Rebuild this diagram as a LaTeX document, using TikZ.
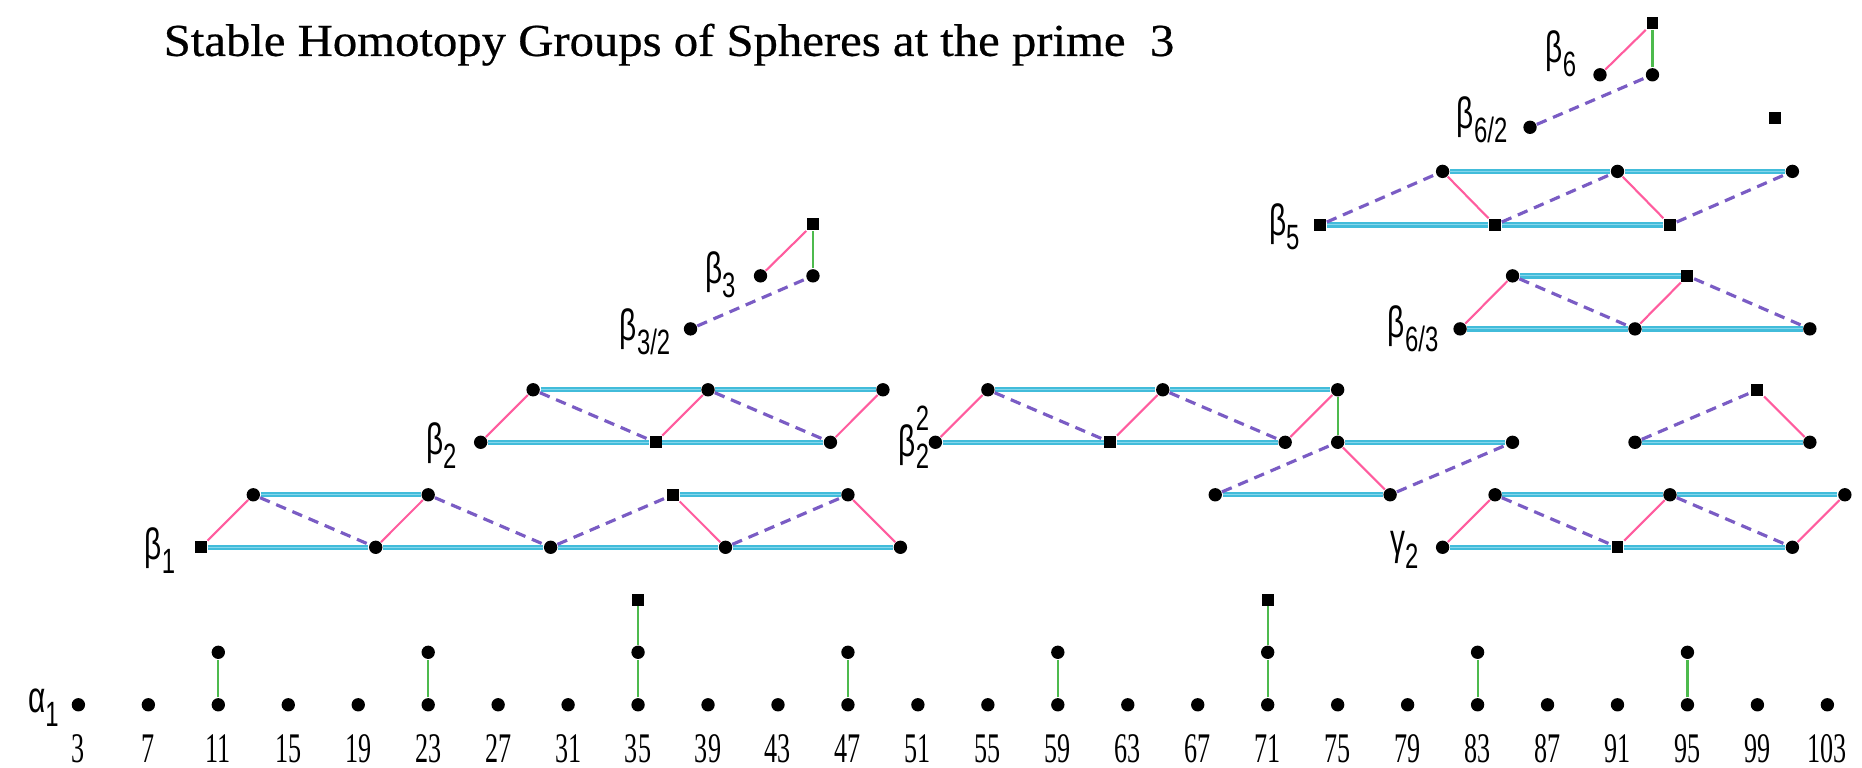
\documentclass[tikz,border=0pt]{standalone}
\usepackage{xcolor}
\usepackage{graphicx}
\usepackage{fontspec}
\setmainfont{Liberation Serif}
\newfontfamily\titlefont{Liberation Serif}[FakeBold=0.5]
\newfontfamily\greekfont{Liberation Sans}
\usepackage{tikz}

\definecolor{cyanline}{HTML}{42BCDA}
\definecolor{cyanmid}{HTML}{86D6EC}
\definecolor{pinkline}{HTML}{FF5C9E}
\definecolor{greenline}{HTML}{4DBA4D}
\definecolor{dashline}{HTML}{7A5CC4}

\newcommand{\narrow}[1]{\scalebox{0.68}[1]{#1}}
\newcommand{\gen}[2]{\narrow{\greekfont\fontsize{12.5}{14}\selectfont #1\raisebox{-0.32em}{\fontsize{10}{12}\selectfont #2}}}

\begin{document}
\begin{tikzpicture}[x=0.1749cm, y=0.525cm,
    dot/.style={circle, fill=black, inner sep=0pt, minimum size=3.8pt},
    sq/.style={rectangle, fill=black, inner sep=0pt, minimum size=3.4pt},
    hz/.style={draw=cyanline, double=cyanmid, line width=0.6pt, double distance=0.3pt},
    pk/.style={draw=pinkline, line width=0.6pt},
    gn/.style={draw=greenline, line width=0.6pt},
    dsh/.style={draw=dashline, line width=0.9pt, dash pattern=on 3pt off 2pt},
    num/.style={font=\fontsize{12}{13}\selectfont, inner sep=0pt},
    lab/.style={anchor=east, inner sep=0pt}]
    \useasboundingbox (-1.4826,-1.204) rectangle (104.98,13.425);

    \node[anchor=base west, inner sep=0pt, font=\titlefont\fontsize{13}{15}\selectfont] (title) at (7.84,12.36) {\scalebox{1.066}[1]{Stable Homotopy Groups of Spheres at the prime\ \ 3}};

    \foreach \t in {3,7,...,103} {
        \node[dot] (a\t) at (\t,0) {};
        \node[num] (n\t) at (\t,-0.84) {\scalebox{0.62}[1]{\t}};
    }
    \foreach \t in {11,23,47,59,83,95} {
        \node[dot] (u\t) at (\t,1) {};
        \draw[gn] (a\t) -- (u\t);
    }
    \foreach \t in {35,71} {
        \node[dot] (u\t) at (\t,1) {};
        \node[sq] (w\t) at (\t,2) {};
        \draw[gn] (a\t) -- (u\t) -- (w\t);
    }
    \node[lab] (la1) at (1.91,-0.05) {\gen{α}{1}};

    \node[sq] at (10,3) (b1-10) {};
    \node[dot] at (20,3) (b1-20) {};
    \node[dot] at (30,3) (b1-30) {};
    \node[dot] at (40,3) (b1-40) {};
    \node[dot] at (50,3) (b1-50) {};
    \node[dot] at (13,4) (b1-13) {};
    \node[dot] at (23,4) (b1-23) {};
    \node[sq] at (37,4) (b1-37) {};
    \node[dot] at (47,4) (b1-47) {};
    \node[lab] at (8.57,2.93) (lb1) {\gen{β}{1}};

    \draw[hz] (b1-10) -- (b1-20) -- (b1-30) -- (b1-40) -- (b1-50);
    \draw[hz] (b1-13) -- (b1-23);
    \draw[hz] (b1-37) -- (b1-47);
    \draw[pk] (b1-10) -- (b1-13);
    \draw[pk] (b1-20) -- (b1-23);
    \draw[pk] (b1-37) -- (b1-40);
    \draw[pk] (b1-47) -- (b1-50);
    \draw[dsh] (b1-13) -- (b1-20);
    \draw[dsh] (b1-23) -- (b1-30);
    \draw[dsh] (b1-30) -- (b1-37);
    \draw[dsh] (b1-40) -- (b1-47);

    \node[dot] at (26,5) (b2-26) {};
    \node[sq] at (36,5) (b2-36) {};
    \node[dot] at (46,5) (b2-46) {};
    \node[dot] at (29,6) (b2-29) {};
    \node[dot] at (39,6) (b2-39) {};
    \node[dot] at (49,6) (b2-49) {};
    \node[lab] at (24.66,4.94) (lb2) {\gen{β}{2}};

    \draw[hz] (b2-26) -- (b2-36) -- (b2-46);
    \draw[hz] (b2-29) -- (b2-39) -- (b2-49);
    \draw[pk] (b2-26) -- (b2-29);
    \draw[pk] (b2-36) -- (b2-39);
    \draw[pk] (b2-46) -- (b2-49);
    \draw[dsh] (b2-29) -- (b2-36);
    \draw[dsh] (b2-39) -- (b2-46);

    \node[dot] at (52,5) (bb-52) {};
    \node[sq] at (62,5) (bb-62) {};
    \node[dot] at (72,5) (bb-72) {};
    \node[dot] at (55,6) (bb-55) {};
    \node[dot] at (65,6) (bb-65) {};
    \node[dot] at (75,6) (bb-75t) {};
    \node[dot] at (75,5) (bb-75) {};
    \node[dot] at (85,5) (bb-85) {};
    \node[dot] at (68,4) (bb-68) {};
    \node[dot] at (78,4) (bb-78) {};
    \node[lab] at (51.68,5.1) (lbb) {\narrow{\greekfont\fontsize{12.5}{14}\selectfont β\fontsize{10}{12}\selectfont\rlap{\raisebox{0.75em}{2}}\raisebox{-0.32em}{2}}};

    \draw[hz] (bb-52) -- (bb-62) -- (bb-72);
    \draw[hz] (bb-55) -- (bb-65) -- (bb-75t);
    \draw[hz] (bb-75) -- (bb-85);
    \draw[hz] (bb-68) -- (bb-78);
    \draw[pk] (bb-52) -- (bb-55);
    \draw[pk] (bb-62) -- (bb-65);
    \draw[pk] (bb-72) -- (bb-75t);
    \draw[pk] (bb-75) -- (bb-78);
    \draw[gn] (bb-75t) -- (bb-75);
    \draw[dsh] (bb-55) -- (bb-62);
    \draw[dsh] (bb-65) -- (bb-72);
    \draw[dsh] (bb-68) -- (bb-75);
    \draw[dsh] (bb-78) -- (bb-85);

    \node[dot] at (92,5) (r-92) {};
    \node[dot] at (102,5) (r-102) {};
    \node[sq] at (99,6) (r-99) {};

    \draw[hz] (r-92) -- (r-102);
    \draw[dsh] (r-92) -- (r-99);
    \draw[pk] (r-99) -- (r-102);

    \node[dot] at (81,3) (g2-81) {};
    \node[sq] at (91,3) (g2-91) {};
    \node[dot] at (101,3) (g2-101) {};
    \node[dot] at (84,4) (g2-84) {};
    \node[dot] at (94,4) (g2-94) {};
    \node[dot] at (104,4) (g2-104) {};
    \node[lab] at (79.65,2.95) (lg2) {\gen{γ}{2}};

    \draw[hz] (g2-81) -- (g2-91) -- (g2-101);
    \draw[hz] (g2-84) -- (g2-94) -- (g2-104);
    \draw[pk] (g2-81) -- (g2-84);
    \draw[pk] (g2-91) -- (g2-94);
    \draw[pk] (g2-101) -- (g2-104);
    \draw[dsh] (g2-84) -- (g2-91);
    \draw[dsh] (g2-94) -- (g2-101);

    \node[dot] at (38,7.16) (b3-38) {};
    \node[dot] at (42,8.17) (b3-42) {};
    \node[dot] at (45,8.17) (b3-45) {};
    \node[sq] at (45,9.15) (b3-45t) {};
    \node[lab] at (36.88,7.1) (lb32) {\gen{β}{3/2}};
    \node[lab] at (40.61,8.2) (lb3) {\gen{β}{3}};

    \draw[dsh] (b3-38) -- (b3-45);
    \draw[pk] (b3-42) -- (b3-45t);
    \draw[gn] (b3-45t) -- (b3-45);

    \node[dot] at (82,7.16) (b63-82) {};
    \node[dot] at (92,7.16) (b63-92) {};
    \node[dot] at (102,7.16) (b63-102) {};
    \node[dot] at (85,8.17) (b63-85) {};
    \node[sq] at (95,8.17) (b63-95) {};
    \node[lab] at (80.8,7.17) (lb63) {\gen{β}{6/3}};

    \draw[hz] (b63-82) -- (b63-92) -- (b63-102);
    \draw[hz] (b63-85) -- (b63-95);
    \draw[pk] (b63-82) -- (b63-85);
    \draw[pk] (b63-92) -- (b63-95);
    \draw[dsh] (b63-85) -- (b63-92);
    \draw[dsh] (b63-95) -- (b63-102);

    \node[sq] at (74,9.14) (b5-74) {};
    \node[sq] at (84,9.14) (b5-84) {};
    \node[sq] at (94,9.14) (b5-94) {};
    \node[dot] at (81,10.16) (b5-81) {};
    \node[dot] at (91,10.16) (b5-91) {};
    \node[dot] at (101,10.16) (b5-101) {};
    \node[lab] at (72.86,9.1) (lb5) {\gen{β}{5}};

    \draw[hz] (b5-74) -- (b5-84) -- (b5-94);
    \draw[hz] (b5-81) -- (b5-91) -- (b5-101);
    \draw[pk] (b5-81) -- (b5-84);
    \draw[pk] (b5-91) -- (b5-94);
    \draw[dsh] (b5-74) -- (b5-81);
    \draw[dsh] (b5-84) -- (b5-91);
    \draw[dsh] (b5-94) -- (b5-101);

    \node[dot] at (86,11.0) (b6-86) {};
    \node[dot] at (90,12.0) (b6-90) {};
    \node[dot] at (93,12.0) (b6-93) {};
    \node[sq] at (93,12.98) (b6-93t) {};
    \node[sq] at (100,11.17) (x100) {};
    \node[lab] at (84.74,11.15) (lb62) {\gen{β}{6/2}};
    \node[lab] at (88.68,12.4) (lb6) {\gen{β}{6}};

    \draw[dsh] (b6-86) -- (b6-93);
    \draw[pk] (b6-90) -- (b6-93t);
    \draw[gn] (b6-93t) -- (b6-93);
\end{tikzpicture}
\end{document}
